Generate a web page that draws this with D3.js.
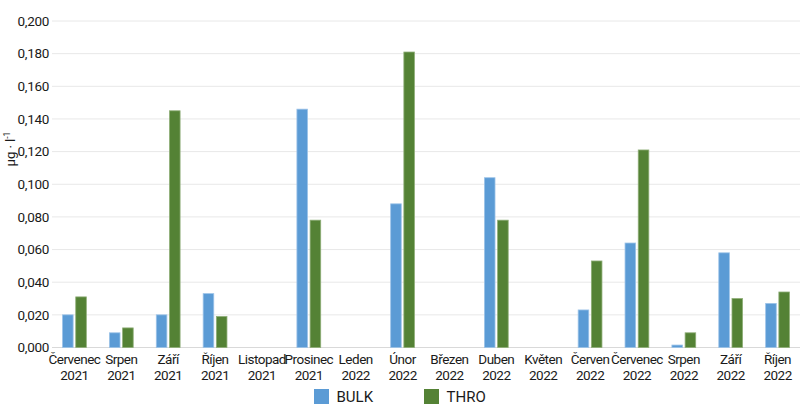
<!DOCTYPE html>
<html>
<head>
<meta charset="utf-8">
<script src="https://cdn.jsdelivr.net/npm/d3@7"></script>
<style>
  body { margin: 0; background: #fff; }
  svg text { font-family: Roboto, "DejaVu Sans", sans-serif; fill: #1a1a1a; }
</style>
</head>
<body>
<svg id="chart" width="800" height="412"></svg>
<script>
// měsíce (dva řádky popisku)
const months = ["Červenec", "Srpen", "Září", "Říjen", "Listopad", "Prosinec", "Leden", "Únor",
                "Březen", "Duben", "Květen", "Červen", "Červenec", "Srpen", "Září", "Říjen"];
const years = ["2021", "2021", "2021", "2021", "2021", "2021", "2022", "2022",
               "2022", "2022", "2022", "2022", "2022", "2022", "2022", "2022"];
// hodnoty v µg·l-1 (null = bez hodnoty)
const bulk = [0.020, 0.009, 0.020, 0.033, null, 0.146, null, 0.088,
              null, 0.104, null, 0.023, 0.064, 0.0015, 0.058, 0.027];
const thro = [0.031, 0.012, 0.145, 0.019, null, 0.078, null, 0.181,
              null, 0.078, null, 0.053, 0.121, 0.009, 0.030, 0.034];
const yTicks = [0, 0.02, 0.04, 0.06, 0.08, 0.1, 0.12, 0.14, 0.16, 0.18, 0.2];

const series = [
    { name: "BULK", values: bulk, color: "#5b9bd5", edge: "#9cc3e8" },
    { name: "THRO", values: thro, color: "#548235", edge: "#8fae78" }
];

const svg = d3.select("#chart");
const plotL = 51, plotR = 801, plotT = 21, plotB = 347.5;

const x = d3.scaleBand().domain(d3.range(months.length)).range([plotL, plotR]);
const y = d3.scaleLinear().domain([0, 0.2]).range([plotB, plotT]);

// mřížka
svg.append("g").selectAll("line")
    .data(yTicks)
    .enter().append("line")
    .attr("x1", plotL + 1).attr("x2", 800)
    .attr("y1", d => y(d)).attr("y2", d => y(d))
    .attr("stroke", d => d === 0 ? "#d9d9d9" : "#e8e8e8")
    .attr("stroke-width", 1);

// popisky osy y
const fmt = d => d3.format(".3f")(d).replace(".", ",");
svg.append("g").selectAll("text")
    .data(yTicks)
    .enter().append("text")
    .attr("x", 49).attr("y", d => y(d))
    .attr("dy", "0.35em")
    .attr("text-anchor", "end")
    .attr("font-size", 13.5)
    .attr("letter-spacing", -0.3)
    .text(fmt);

// název osy y
const yt = svg.append("text")
    .attr("transform", "translate(15,149) rotate(-90)")
    .attr("text-anchor", "middle")
    .attr("font-size", 13);
yt.append("tspan").text("µg · l");
yt.append("tspan").attr("dy", -5).attr("font-size", 8.5).text("-1");

// sloupce
const barW = 10.6, gap = 2.6;
series.forEach((s, i) => {
    svg.append("g").selectAll("rect")
        .data(s.values.map((v, j) => ({ v, j })).filter(d => d.v != null))
        .enter().append("rect")
        .attr("x", d => x(d.j) + x.bandwidth() / 2 + (i === 0 ? -gap / 2 - barW : gap / 2))
        .attr("y", d => y(d.v))
        .attr("width", barW)
        .attr("height", d => y(0) - y(d.v))
        .attr("fill", s.color)
        .attr("stroke", s.edge)
        .attr("stroke-width", 0.8);
});

// popisky osy x
const xl = svg.append("g").selectAll("text")
    .data(months)
    .enter().append("text")
    .attr("text-anchor", "middle")
    .attr("font-size", 13.5)
    .attr("letter-spacing", -0.5);
xl.append("tspan")
    .attr("x", (d, i) => x(i) + x.bandwidth() / 2)
    .attr("y", 364)
    .text(d => d);
xl.append("tspan")
    .attr("x", (d, i) => x(i) + x.bandwidth() / 2)
    .attr("y", 379.5)
    .text((d, i) => years[i]);

// legenda
const legX = [314, 424];
const leg = svg.append("g").selectAll("g")
    .data(series)
    .enter().append("g")
    .attr("transform", (d, i) => `translate(${legX[i]},389)`);
leg.append("rect")
    .attr("width", 15).attr("height", 15)
    .attr("fill", d => d.color);
leg.append("text")
    .attr("x", 22.5).attr("y", 7.5)
    .attr("dy", "0.35em")
    .attr("font-size", 15)
    .text(d => d.name);
</script>
</body>
</html>
